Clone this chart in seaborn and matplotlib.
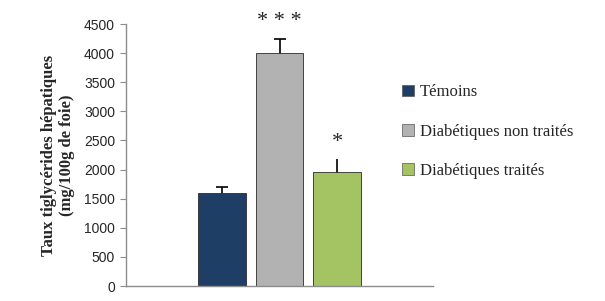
import matplotlib
matplotlib.use("Agg")
import matplotlib.pyplot as plt
import seaborn as sns
import pandas as pd
from matplotlib.patches import Patch

categories = ["Témoins", "Diabétiques non traités", "Diabétiques traités"]
values = [1600, 4000, 1950]
errors = [100, 250, 230]
capsizes = [4, 4, 0]
signif = ["", "* * *", "*"]
colors = ["#1E3E66", "#B2B2B2", "#A4C464"]
yticks = [0, 500, 1000, 1500, 2000, 2500, 3000, 3500, 4000, 4500]

sns.set_style("white")
plt.rcParams['font.family'] = ['Liberation Sans', 'DejaVu Sans']

df = pd.DataFrame({"cat": categories, "val": values})

fig = plt.figure(figsize=(6.05, 3.01), dpi=100)
ax = fig.add_axes([0.2083, 0.0498, 0.5074, 0.8704])

sns.barplot(data=df, x="cat", y="val", hue="cat", palette=colors, dodge=False,
            width=0.82, ax=ax, legend=False, edgecolor="#2a2a2a", linewidth=0.6,
            errorbar=None, saturation=1, zorder=2)

for i, (v, e, c) in enumerate(zip(values, errors, capsizes)):
    ax.errorbar([i], [v], yerr=[e], fmt="none", ecolor="black", elinewidth=1.2,
                capsize=c, capthick=1.2, zorder=1)

for i, (v, e, s) in enumerate(zip(values, errors, signif)):
    if s:
        ax.text(i, v + e + 130, s, ha="center", va="bottom", fontsize=16,
                family=["Liberation Serif", "DejaVu Serif"])

ax.set_xlim(-1.67, 3.67)
ax.set_ylim(0, 4500)
ax.set_yticks(yticks)
ax.set_yticklabels([str(t) for t in yticks], fontsize=10)
ax.set_xticks([])
ax.set_xlabel("")
ax.set_ylabel("Taux tiglycérides hépatiques\n(mg/100g de foie)", fontsize=12,
              fontweight="bold", family=["Liberation Serif", "DejaVu Serif"], labelpad=6)
for sp in ["top", "right"]:
    ax.spines[sp].set_visible(False)
for sp in ["left", "bottom"]:
    ax.spines[sp].set_color("#8C8C8C")
    ax.spines[sp].set_linewidth(1)
ax.tick_params(axis="y", which="both", left=True, length=4, color="#8C8C8C", pad=4)

handles = [Patch(facecolor=c, edgecolor="#555555", linewidth=0.5) for c in colors]
fig.legend(handles, categories, loc="upper left", bbox_to_anchor=(0.64, 0.77),
           frameon=False, handlelength=0.7, handleheight=0.7, handletextpad=0.35,
           labelspacing=1.4, prop={"family": ["Liberation Serif", "DejaVu Serif"], "size": 12})

fig.savefig("out.png", dpi=100)
